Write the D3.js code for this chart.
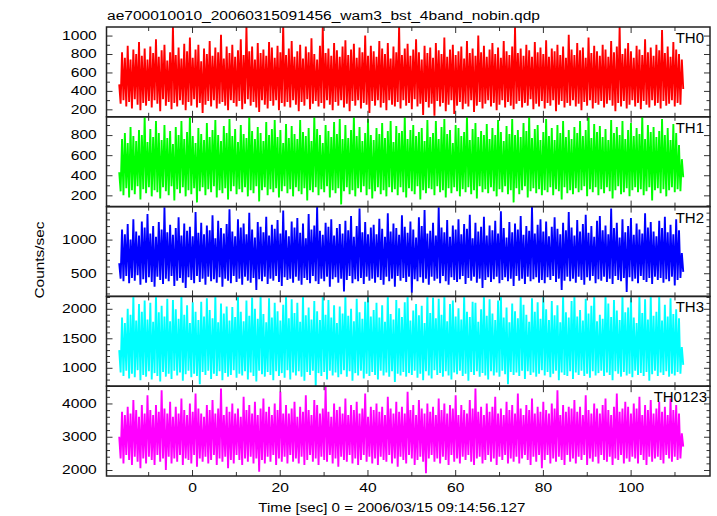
<!DOCTYPE html>
<html><head><meta charset="utf-8">
<script src="https://cdn.jsdelivr.net/npm/d3@7"></script>
<style>body{margin:0;background:#fff}svg{display:block}</style>
</head><body>
<script>
const title = "ae700010010_20060315091456_wam3_bst_4band_nobin.qdp";
const xLabel = "Time [sec] 0 = 2006/03/15 09:14:56.127";
const yLabel = "Counts/sec";
const tStart = -16.6, tEnd = 112.0;
const xDomain = [-19.5, 118.1];
const xTicksMajor = [0, 20, 40, 60, 80, 100];
const xTicksMinor = [-10, 10, 30, 50, 70, 90, 110];
const bands = ["TH0", "TH1", "TH2", "TH3", "TH0123"];
const colors = ["#ff0000", "#00ff00", "#0000ff", "#00ffff", "#ff00ff"];
const yDomains = [[119, 1093], [88, 982], [156, 1490], [688, 2210], [1820, 4519]];
const yTickLabels = [[200, 400, 600, 800, 1000], [200, 400, 600, 800], [500, 1000], [1000, 1500, 2000], [2000, 3000, 4000]];
const yMinorStep = [100, 100, 100, 100, 200];

const TH0 = [
470,260,820,300,760,230,890,280,740,210,850,310,800,250,930,190,780,270,860,240,
740,290,880,220,810,300,960,260,770,180,840,310,900,240,730,280,820,200,1100,270,
790,230,870,300,750,250,910,190,830,280,980,240,760,310,850,220,900,270,720,160,
860,250,800,290,940,230,780,300,870,210,820,260,1010,280,750,240,880,190,810,300,
900,270,770,230,840,290,960,200,790,260,1100,310,830,240,880,280,740,220,920,170,
810,300,850,250,780,210,930,290,870,240,760,300,890,190,820,270,1120,230,790,280,
860,220,940,300,770,250,830,180,900,280,750,240,880,310,820,200,970,260,800,290,
740,230,890,270,1100,210,810,300,860,250,780,190,920,280,840,240,770,300,880,220,
950,260,790,180,850,290,910,240,760,300,870,210,820,270,1000,250,780,160,890,290,
830,240,770,300,940,220,860,270,800,190,920,300,750,250,880,230,820,280,1105,210,
790,300,860,240,910,270,780,200,850,310,960,230,820,260,740,140,890,280,810,220,
870,260,760,130,920,290,840,230,800,270,980,180,770,250,850,300,900,150,790,240,
830,280,880,200,750,260,940,230,810,300,860,170,780,240,1000,280,820,210,890,260,
770,300,850,230,920,270,800,190,870,250,760,300,940,220,830,280,790,240,880,200,
1090,260,810,290,860,220,780,270,900,240,840,310,770,200,930,260,820,230,870,290,
800,210,950,270,770,240,860,300,830,180,900,250,790,290,880,220,760,270,1010,240,
850,300,790,230,920,260,840,190,870,280,760,240,980,300,810,210,890,270,830,250,
780,290,900,220,850,260,770,300,940,240,820,180,880,270,1100,230,800,290,860,210,
920,250,830,300,760,230,890,270,850,200,790,290,960,250,820,220,870,300,780,240,
900,270,840,210,1060,290,810,240,880,260,770,300,930,230,850,270,800,250,740,420];

const TH1 = [
430,240,760,200,820,270,720,180,880,250,790,210,740,290,850,160,800,260,990,220,
730,280,860,190,780,250,940,230,820,170,750,280,900,240,770,200,840,290,710,150,
880,260,800,220,940,280,760,190,830,250,990,210,790,270,720,130,870,240,810,280,
750,200,920,260,780,230,850,290,950,180,800,250,740,220,890,270,820,160,960,240,
790,290,860,210,730,260,900,230,810,280,770,190,990,250,840,220,760,290,880,140,
820,250,740,280,930,200,800,260,860,230,950,270,780,180,850,240,720,290,910,220,
770,260,890,190,810,280,760,240,950,210,830,270,790,150,870,250,740,230,990,280,
860,200,800,260,720,230,900,290,840,180,780,250,930,220,810,270,960,110,760,240,
900,280,770,210,850,250,990,190,790,270,880,230,740,290,820,200,960,260,800,170,
750,240,870,280,810,210,920,250,770,190,840,280,940,230,730,260,890,200,820,280,
840,230,990,180,760,270,850,240,900,210,790,290,830,160,870,250,740,220,950,270,
780,260,820,200,940,290,760,230,880,250,960,180,810,270,850,220,720,280,900,240,
870,190,790,260,830,230,990,280,750,210,860,250,920,170,780,290,840,230,800,260,
910,220,760,280,870,240,800,190,950,260,830,230,740,290,890,210,810,250,960,130,
800,270,850,210,780,250,920,290,840,180,990,240,770,270,860,220,900,260,750,200,
830,250,960,230,790,280,870,200,750,260,900,240,820,160,940,280,780,220,850,250,
760,210,880,270,820,230,940,250,790,290,850,190,990,260,770,230,910,280,830,200,
890,260,780,220,860,280,750,240,950,170,820,250,880,290,800,210,940,230,760,270,
850,190,920,250,790,280,870,230,810,260,990,200,760,240,900,280,830,150,880,250,
780,270,840,220,960,260,800,190,870,250,750,280,910,230,820,260,700,240,560,380];

const TH2 = [
650,420,1150,380,1080,460,1230,350,1000,430,1300,390,1120,470,1060,330,1270,410,1180,360,
1380,440,1090,370,1200,300,1040,450,1260,400,1150,340,1480,420,1110,380,1220,460,1070,310,
1170,390,1330,430,1060,360,1240,280,1130,440,1190,400,1050,350,1410,460,1100,370,1250,420,
1080,330,1210,450,1140,380,1360,410,1020,360,1280,440,1170,300,1090,420,1230,390,1450,350,
1120,460,1050,370,1300,420,1180,330,1240,450,1080,390,1400,360,1150,430,1030,250,1260,410,
1190,380,1110,450,1340,340,1060,420,1220,390,1160,460,1290,370,1090,310,1430,440,1140,400,
1050,420,1270,360,1180,450,1320,390,1100,330,1240,430,1020,400,1380,350,1150,460,1210,380,
1490,340,1130,420,1070,380,1250,450,1190,300,1300,410,1060,440,1170,360,1230,420,1090,230,
1280,400,1140,460,1350,350,1040,410,1200,380,1460,430,1110,340,1260,450,1080,390,1180,420,
1220,360,1080,440,1310,400,1160,330,1040,450,1390,380,1120,420,1240,300,1170,460,1070,390,
1360,430,1190,370,1100,450,1270,210,1150,410,1030,380,1330,440,1200,360,1440,420,1090,330,
1130,450,1250,390,1060,420,1480,350,1180,460,1110,380,1290,330,1040,440,1210,400,1150,370,
1300,410,1080,460,1230,340,1160,430,1370,390,1020,450,1250,360,1120,420,1190,280,1340,400,
1060,440,1210,370,1140,410,1280,450,1090,350,1420,400,1170,440,1030,380,1260,420,1110,310,
1240,460,1150,390,1350,420,1070,340,1200,450,1130,380,1490,410,1090,440,1220,360,1300,400,
1120,350,1270,440,1050,400,1190,460,1330,370,1160,420,1080,250,1250,390,1140,450,1410,380,
1180,420,1060,360,1290,450,1120,400,1230,330,1370,440,1100,390,1200,460,1040,350,1280,410,
1350,390,1140,450,1210,370,1080,420,1460,340,1170,460,1250,400,1030,380,1300,430,1110,220,
1200,440,1320,380,1070,420,1240,350,1150,460,1090,400,1390,370,1180,430,1260,340,1120,450,
1050,400,1280,430,1170,360,1340,410,1110,380,1220,450,1080,320,1300,400,1140,430,800,520];

const TH3 = [
1300,920,1850,860,1760,950,2000,820,1900,900,2230,840,1800,960,2080,790,1950,880,2140,850,
1820,940,2100,800,1780,910,2230,860,1940,770,2050,930,1870,850,2170,900,1790,810,2150,950,
1990,870,1830,920,2230,780,1900,890,2060,950,1760,840,2110,900,1950,860,1810,720,2120,930,
1870,880,2180,950,1980,810,1840,900,2230,860,1770,940,2090,790,1920,910,2040,850,1800,880,
2030,960,1860,830,2230,900,1950,870,1790,940,2140,800,1880,920,2190,860,2000,770,1830,950,
2230,890,1910,850,1770,930,2180,880,1850,790,2100,940,1960,860,1800,910,2070,830,2230,960,
1840,800,2160,920,1930,870,2100,940,1780,850,2230,780,1890,930,2020,880,1820,950,2130,690,
1960,910,1810,860,2230,930,1900,800,2150,950,1850,870,2060,920,1760,840,2040,890,1920,960,
2230,850,1880,940,2000,780,1790,910,2170,870,1940,950,1830,820,2120,900,2230,860,1870,930,
1980,880,2100,800,1850,950,2060,870,1780,920,2230,850,1910,940,1820,760,2150,900,2010,870,
1860,930,2110,850,2230,910,1800,880,1970,950,2080,830,1890,900,2050,790,1760,940,2230,870,
1930,820,2190,960,1840,880,2170,910,1900,850,2230,940,1790,870,2080,800,2140,920,1870,890,
2010,950,1820,860,2230,900,1950,780,1860,930,2120,880,2100,940,1780,850,1990,910,2230,870,
1880,800,2160,940,1920,870,1810,920,2140,850,2230,950,1850,890,2020,720,1770,930,2090,880,
1960,920,1840,860,2230,950,2070,810,1900,940,1780,880,2180,920,1950,850,2110,900,1830,960,
2230,870,1990,930,1810,840,2130,900,1890,950,2060,790,1770,920,2230,880,1940,860,1850,940,
2130,810,2230,920,1870,880,1980,950,1800,860,2170,900,1920,830,2050,940,2230,870,1790,910,
1900,950,1830,860,2230,920,2090,880,1860,790,2150,940,1970,900,1810,850,2230,930,1940,870,
2020,900,2190,840,1850,950,1760,880,2230,910,1930,860,2160,930,1820,780,2230,890,1880,950,
1950,860,2230,920,1800,880,2070,940,1870,850,2180,900,1910,870,1990,930,1840,900,1350,1050];

const TH0123 = [
3000,2350,3750,2200,3650,2450,3900,2300,3700,2150,4100,2400,3800,2250,3600,2050,3950,2350,3700,2200,
4250,2400,3800,2300,3650,2150,3950,2450,3750,2250,4400,2350,3850,2000,3700,2400,4050,2200,3600,2350,
3900,2250,3700,2450,4150,2150,3800,2350,3650,2300,4000,2200,3750,2450,4300,2100,3850,2350,3700,2250,
3600,2400,3950,2200,3800,2300,4100,2450,3700,2150,3850,2350,4450,2250,3650,2400,3900,2050,3750,2300,
4000,2200,3700,2450,3850,2300,3600,2150,4200,2350,3800,2250,3950,2400,3700,2200,4050,2350,3650,1950,
3850,2300,4150,2200,3750,2400,3900,2250,3650,2450,4000,2150,3800,2350,4350,2250,3700,2400,3950,2200,
3700,2450,3850,2250,4050,2350,3600,2200,3900,2400,3750,2150,4250,2300,3800,2450,3650,2250,4100,2350,
3950,2150,3700,2400,3850,2300,4500,2250,3750,2450,3600,2200,4000,2350,3800,2100,3900,2400,3700,2300,
4150,2250,3650,2450,3950,2200,3800,2350,4050,2150,3700,2300,3850,2450,4300,2250,3600,2400,3900,2200,
3800,2350,4000,2150,3750,2400,3900,2300,3650,2250,4200,2450,3850,2200,3700,2350,4050,2100,3750,2400,
3900,2300,3700,2200,4350,2450,3800,2350,3950,2150,3650,2300,4100,2400,3850,2250,3700,1900,4000,2350,
3750,2450,3900,2250,3650,2350,4150,2200,3800,2400,4000,2300,3700,2150,3950,2450,3850,2250,4250,2350,
3650,2200,3950,2400,3800,2300,3700,2450,4100,2250,3850,2150,4450,2350,3750,2400,3900,2200,3650,2300,
4000,2450,3750,2250,3900,2350,4200,2150,3700,2400,3850,2300,3650,2450,4050,2200,3800,2350,3950,2250,
3700,2400,4300,2200,3850,2350,3650,2450,3950,2300,3800,2150,4150,2400,3700,2250,3900,2450,3750,2050,
4050,2300,3800,2450,3700,2200,4000,2350,3850,2250,4400,2400,3650,2300,3950,2150,3750,2450,3900,2250,
3850,2350,4100,2200,3750,2400,3900,2300,3650,2450,4250,2150,3800,2350,3700,2250,4000,2400,3850,2200,
3700,2450,3950,2300,4150,2250,3800,2400,3650,2150,3900,2350,4300,2300,3750,2450,3850,2200,4050,2350,
3900,2250,3700,2400,4000,2350,3850,2200,4200,2450,3650,2300,3950,2150,3800,2400,4100,2250,3700,2350,
3850,2400,4050,2300,3750,2200,3900,2450,3650,2350,4150,2250,3800,2400,3950,2300,3700,2350,3100,2700];

const series = [TH0, TH1, TH2, TH3, TH0123];

const W = 717, H = 516;
const L = 106.5, R = 710, T = 27, B = 476;
const ph = (B - T) / bands.length;
const FONT = "'Liberation Sans', Arial, Helvetica, sans-serif";
const STRETCH = 1.3;

const svg = d3.select("body").append("svg").attr("width", W).attr("height", H);
const x = d3.scaleLinear().domain(xDomain).range([L, R]);

bands.forEach((name, k) => {
  const top = T + k * ph, bot = top + ph;
  const y = d3.scaleLinear().domain(yDomains[k]).range([bot, top]);
  const clipId = "clip" + k;
  svg.append("clipPath").attr("id", clipId)
    .append("rect").attr("x", L).attr("y", top).attr("width", R - L).attr("height", ph);

  const vals = series[k];
  const dt = (tEnd - tStart) / (vals.length - 1);
  const line = d3.line().x((d, i) => x(tStart + i * dt)).y(d => y(d));
  svg.append("path").attr("clip-path", `url(#${clipId})`)
    .attr("d", line(vals)).attr("fill", "none")
    .attr("stroke", colors[k]).attr("stroke-width", 1.9).attr("stroke-linejoin", "miter")
    .attr("stroke-miterlimit", 2);

  const [d0, d1] = yDomains[k];
  const step = yMinorStep[k];
  const minor = d3.range(Math.ceil(d0 / step) * step, d1, step).filter(v => !yTickLabels[k].includes(v));
  const styleAxis = g => { g.select(".domain").remove(); g.selectAll("line").attr("stroke", "#333").attr("stroke-width", 1); };
  svg.append("g").attr("transform", `translate(${L},0)`)
    .call(d3.axisLeft(y).tickValues(minor).tickSize(-3.5).tickFormat("")).call(styleAxis);
  svg.append("g").attr("transform", `translate(${R},0)`)
    .call(d3.axisRight(y).tickValues(minor).tickSize(-3.5).tickFormat("")).call(styleAxis);
  svg.append("g").attr("transform", `translate(${R},0)`)
    .call(d3.axisRight(y).tickValues(yTickLabels[k]).tickSize(-6).tickFormat("")).call(styleAxis);
  const ly = svg.append("g").attr("transform", `translate(${L},0)`)
    .call(d3.axisLeft(y).tickValues(yTickLabels[k]).tickSize(-6).tickPadding(7.5).tickFormat(d3.format("d")))
    .call(styleAxis);
  ly.selectAll("text").attr("font-family", FONT).attr("font-size", 12).attr("fill", "#000")
    .attr("transform", `scale(${STRETCH},1)`);

  [[xTicksMajor, 6], [xTicksMinor, 4]].forEach(([vals2, len]) => {
    svg.append("g").attr("transform", `translate(0,${top})`)
      .call(d3.axisTop(x).tickValues(vals2).tickSize(-len).tickFormat("")).call(styleAxis);
    svg.append("g").attr("transform", `translate(0,${bot})`)
      .call(d3.axisBottom(x).tickValues(vals2).tickSize(-len).tickFormat("")).call(styleAxis);
  });

  svg.append("rect").attr("x", L).attr("y", top).attr("width", R - L).attr("height", ph)
    .attr("fill", "none").attr("stroke", "#222").attr("stroke-width", 1.5);

  svg.append("text").attr("x", k === 4 ? 707 : 704).attr("y", top + 16)
    .attr("text-anchor", "end").attr("font-family", FONT).attr("font-size", 15).attr("fill", "#000")
    .text(name);
});

const xl = svg.append("g").attr("transform", `translate(0,${B})`)
  .call(d3.axisBottom(x).tickValues(xTicksMajor).tickSize(0).tickPadding(7.8));
xl.select(".domain").remove();
xl.selectAll("text").attr("font-family", FONT).attr("font-size", 12).attr("fill", "#000")
  .attr("transform", `scale(${STRETCH},1)`);

svg.append("text").attr("x", 107).attr("y", 19.5)
  .attr("font-family", FONT).attr("font-size", 12).attr("fill", "#000")
  .attr("textLength", 433).attr("lengthAdjust", "spacingAndGlyphs").text(title);

svg.append("text").attr("x", 258.3).attr("y", 511.5)
  .attr("font-family", FONT).attr("font-size", 12).attr("fill", "#000")
  .attr("textLength", 267).attr("lengthAdjust", "spacingAndGlyphs").text(xLabel);

svg.append("text").attr("transform", "translate(44,260) rotate(-90)")
  .attr("x", -38.5).attr("font-family", FONT).attr("font-size", 12).attr("fill", "#000")
  .attr("textLength", 77).attr("lengthAdjust", "spacingAndGlyphs").text(yLabel);
</script>
</body></html>
